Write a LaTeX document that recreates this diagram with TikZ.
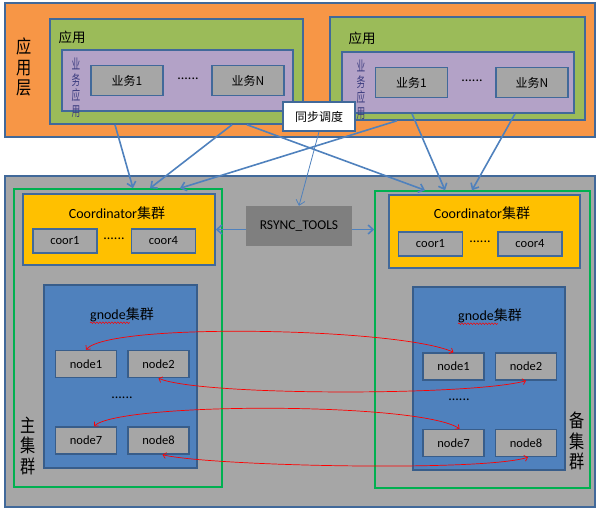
\documentclass[tikz,border=0pt]{standalone}
\usepackage{fontspec}
\setmainfont{Carlito}
\newfontfamily\cjk{Noto Sans CJK SC}
\newfontfamily\cjknarrow[FakeStretch=0.82]{Noto Sans CJK SC}
\newfontfamily\cjkslim[FakeStretch=0.62]{Noto Sans CJK SC}
\usetikzlibrary{shapes,arrows.meta,positioning,decorations.pathmorphing}

\definecolor{layerorange}{HTML}{F79646}
\definecolor{appgreen}{HTML}{9BBB59}
\definecolor{bizpurple}{HTML}{B3A2C7}
\definecolor{bizlabel}{HTML}{3D3D80}
\definecolor{itemgray}{HTML}{A6A6A6}
\definecolor{boxline}{HTML}{41699A}
\definecolor{clugreen}{HTML}{00B050}
\definecolor{coyellow}{HTML}{FFC000}
\definecolor{gnblue}{HTML}{4F81BD}
\definecolor{gnline}{HTML}{385D8A}
\definecolor{rsgray}{HTML}{7F7F7F}
\definecolor{arrblue}{HTML}{4F81BD}

\begin{document}
\begin{tikzpicture}[x=1pt,y=-1pt]
  \tikzstyle{every node} = [inner sep=0pt, text=black]
  \tikzstyle{box} = [draw=boxline, line width=1.5pt, rectangle]
  \tikzstyle{item} = [box, fill=itemgray, minimum width=72pt, minimum height=30pt, font=\cjk\fontsize{12}{14}\selectfont]
  \tikzstyle{coor} = [box, fill=itemgray, minimum width=64pt, minimum height=24pt, font=\fontsize{12.5}{14}\selectfont]
  \tikzstyle{gn} = [box, draw=gnline, fill=itemgray, minimum width=61pt, minimum height=27pt, font=\fontsize{12.5}{14}\selectfont]
  \tikzstyle{dots} = [font=\fontsize{14}{14}\selectfont]
  \tikzstyle{title} = [font=\fontsize{14}{16}\selectfont]
  \tikzstyle{vert} = [align=center, font=\cjknarrow\fontsize{18.5}{20.5}\selectfont]
  \tikzstyle{vertsmall} = [align=center, text=bizlabel, font=\cjkslim\fontsize{14}{15.5}\selectfont]
  \tikzstyle{applbl} = [font=\cjk\fontsize{13.5}{14}\selectfont]
  \tikzstyle{link} = [draw=arrblue, line width=1.6pt, -{Straight Barb[length=5pt,width=9pt]}]
  \tikzstyle{mirror} = [draw=red, line width=0.7pt, {Straight Barb[length=3pt,width=6pt]}-{Straight Barb[length=3pt,width=6pt]}]

  \useasboundingbox (0,0) rectangle (597,512);

  % application layer
  \node[box, fill=layerorange, minimum width=590pt, minimum height=134pt] (app) at (300,70) {};
  \node[vert] (appLbl) at (24,67) {应\\用\\层};
  \node[box, fill=appgreen, minimum width=253pt, minimum height=105pt] (appA) at (176.5,71.5) {};
  \node[box, fill=appgreen, minimum width=255pt, minimum height=103pt] (appB) at (457.5,68.5) {};
  \node[applbl] (appAlbl) at (72,37) {应用};
  \node[applbl] (appBlbl) at (362,38) {应用};
  \node[box, fill=bizpurple, minimum width=231pt, minimum height=61pt] (bizA) at (177.5,80.5) {};
  \node[box, fill=bizpurple, minimum width=232pt, minimum height=61pt] (bizB) at (458,82.5) {};
  \node[vertsmall] (bizAlbl) at (76,88) {业\\务\\应\\用};
  \node[vertsmall] (bizBlbl) at (361,90) {业\\务\\应\\用};
  \node[item] (bizA1) at (127,80.5) {业务1};
  \node[item] (bizAN) at (248,80.5) {业务N};
  \node[dots] (bizAdots) at (188,79) {......};
  \node[item] (bizB1) at (411.5,82.5) {业务1};
  \node[item] (bizBN) at (532,82.5) {业务N};
  \node[dots] (bizBdots) at (472,81) {......};
  \node[box, fill=white, minimum width=72pt, minimum height=29pt, font=\cjk\fontsize{12}{14}\selectfont] (sync) at (319,116.5) {同步调度};

  % clusters
  \node[box, fill=itemgray, minimum width=590pt, minimum height=331pt] (clu) at (300,341.5) {};
  \node[draw=clugreen, line width=1.5pt, minimum width=208pt, minimum height=298pt] (main) at (118,338) {};
  \node[draw=clugreen, line width=1.5pt, minimum width=215pt, minimum height=297pt] (bak) at (482.5,339.5) {};
  \node[vert] (mainLbl) at (28,446) {主\\集\\群};
  \node[vert] (bakLbl) at (577,441) {备\\集\\群};

  \node[box, fill=coyellow, minimum width=192pt, minimum height=71pt] (coA) at (119,229.5) {};
  \node[title] (coAt) at (117,213) {Coordinator{\cjk 集群}};
  \node[coor] (coA1) at (65,241) {coor1};
  \node[coor, right=33pt of coA1] (coA4) {coor4};
  \node[dots] (coAdots) at (114,239) {......};
  \node[box, fill=coyellow, minimum width=191pt, minimum height=73pt] (coB) at (484.5,231.5) {};
  \node[title] (coBt) at (482,213) {Coordinator{\cjk 集群}};
  \node[coor] (coB1) at (430.5,244) {coor1};
  \node[coor, right=34pt of coB1] (coB4) {coor4};
  \node[dots] (coBdots) at (480,242) {......};

  \node[fill=rsgray, minimum width=106pt, minimum height=40pt, font=\fontsize{13.5}{14}\selectfont] (rsync) at (299,226) {RSYNC\_TOOLS};

  \node[box, draw=gnline, fill=gnblue, minimum width=153pt, minimum height=183pt] (gnA) at (120.5,376.5) {};
  \node[title] (gnAt) at (122,315) {gnode{\cjk 集群}};
  \node[gn] (gnA1) at (86,364) {node1};
  \node[gn, right=10pt of gnA1] (gnA2) {node2};
  \node[gn, below=48pt of gnA1] (gnA7) {node7};
  \node[gn, right=10pt of gnA7] (gnA8) {node8};
  \node[dots] (gnAdots) at (122,398) {......};
  \node[box, draw=gnline, fill=gnblue, minimum width=152pt, minimum height=183pt] (gnB) at (489,378.5) {};
  \node[title] (gnBt) at (490,316) {gnode{\cjk 集群}};
  \node[gn] (gnB1) at (453.5,366.5) {node1};
  \node[gn, right=10pt of gnB1] (gnB2) {node2};
  \node[gn, below=48pt of gnB1] (gnB7) {node7};
  \node[gn, right=10pt of gnB7] (gnB8) {node8};
  \node[dots] (gnBdots) at (459,400) {......};

  % spell check marks
  \draw[red, line width=0.5pt, decorate, decoration={snake, amplitude=0.8pt, segment length=3pt}] ([yshift=-3pt]gnAt.base west) -- ++(40,0);
  \draw[red, line width=0.5pt, decorate, decoration={snake, amplitude=0.8pt, segment length=3pt}] ([yshift=-3pt]gnBt.base west) -- ++(40,0);

  % links
  \draw[link] ([xshift=-61.5pt]appA.south) -- ([xshift=15pt]main.north);
  \draw[link] ([xshift=55.5pt]appA.south) -- ([xshift=32pt]main.north);
  \draw[link] ([xshift=70.5pt]appA.south) -- ([xshift=-57.5pt]bak.north);
  \draw[link] ([xshift=-60.5pt]appB.south) -- ([xshift=62pt]main.north);
  \draw[link] ([xshift=-46pt]bizB.south) -- ([xshift=-37.5pt]bak.north);
  \draw[link] ([xshift=57pt]bizB.south) -- ([xshift=-10.5pt]bak.north);
  \draw[link, line width=0.8pt] (sync.south) -- (rsync.north);
  \coordinate (bakIn) at (bak.west |- coA.east);
  \draw[link] ([yshift=-3.5pt]rsync.west) -- (coA.east);
  \draw[link] ([yshift=-3.5pt]rsync.east) -- (bakIn);

  \draw[mirror] (gnA1.north) .. controls (110,322) and (400,328) .. (gnB1.north);
  \draw[mirror] (gnA2.south) .. controls (200,396) and (470,396) .. (gnB2.south);
  \draw[mirror] ([xshift=8pt]gnA7.north) .. controls (120,402) and (420,402) .. ([xshift=6pt]gnB7.north);
  \draw[mirror] ([xshift=4pt]gnA8.south) .. controls (210,466) and (480,472) .. ([xshift=2pt]gnB8.south);
\end{tikzpicture}
\end{document}
